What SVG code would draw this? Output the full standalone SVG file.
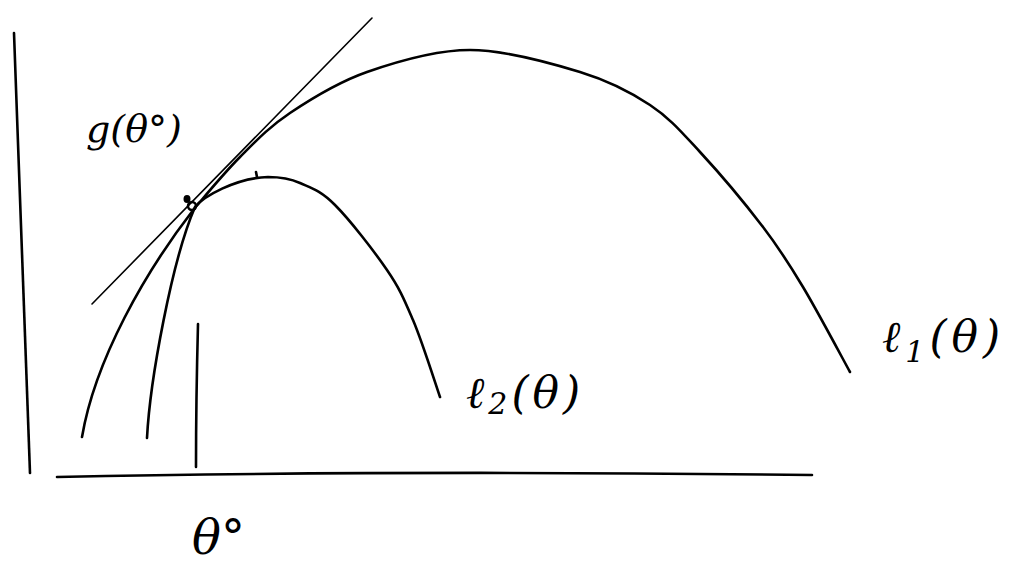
<svg xmlns="http://www.w3.org/2000/svg" width="1013" height="571" viewBox="0 0 1013 571">
<style>
.ln{fill:none;stroke:#000;stroke-linecap:round;stroke-linejoin:round}
.thick{stroke-width:2.6}
.thin{stroke-width:1.6}
.lbl{font-family:"DejaVu Serif","Liberation Serif",serif;font-style:italic;fill:#000}
</style>
<rect width="1013" height="571" fill="#fff"/>
<g id="axes">
<path class="ln thick" d="M14,33 Q22,250 30,473"/>
<path class="ln thick" d="M57,477 Q400,470 812,475"/>
</g>
<g id="curves">
<path id="l1" class="ln thick" d="M82,437 C95,360 145,272 194,209 C206.2,194.7 224,173 240,157 C256,141 268.8,127.2 290,113 C311.2,98.8 337,82.5 367,72 C397,61.5 434.5,50 470,50 C505.5,50 550,62.8 580,72 C610,81.2 630,91.7 650,105 C670,118.3 681.2,131.7 700,152 C718.8,172.3 745.8,204.5 763,227 C780.2,249.5 788.5,262.8 803,287 C817.5,311.2 842.2,357.8 850,372"/>
<path id="l2" class="ln thick" d="M147,438 C150,380 172,260 195,207 C203,197 235,178 268,177 C279,177 289,178 300,183 C311,188 320,190 335,205 C350,220 374,251 387,270 C400,289 404,299 413,320 C422,341 435.5,384 440,397"/>
<path id="tangent" class="ln thin" d="M92,304 L372,18"/>
<path id="theta0" class="ln thick" d="M198,324 Q196,400 196,467"/>
<path class="ln thick" d="M256,172 L257,177"/>
<ellipse cx="187" cy="199" rx="3.5" ry="4" fill="#000"/>
<circle cx="192" cy="206" r="4" fill="none" stroke="#000" stroke-width="2.5"/>
</g>
<g id="labels">
<text class="lbl" x="86" y="142" font-size="38">g(θ°)</text>
<text class="lbl" x="882" y="352" font-size="44" letter-spacing="5">ℓ<tspan font-size="30" dy="10">1</tspan><tspan dy="-10">(θ)</tspan></text>
<text class="lbl" x="466" y="408" font-size="44" letter-spacing="4">ℓ<tspan font-size="30" dy="6">2</tspan><tspan dy="-6">(θ)</tspan></text>
<text class="lbl" x="192" y="554" font-size="48">θ°</text>
</g>
</svg>
